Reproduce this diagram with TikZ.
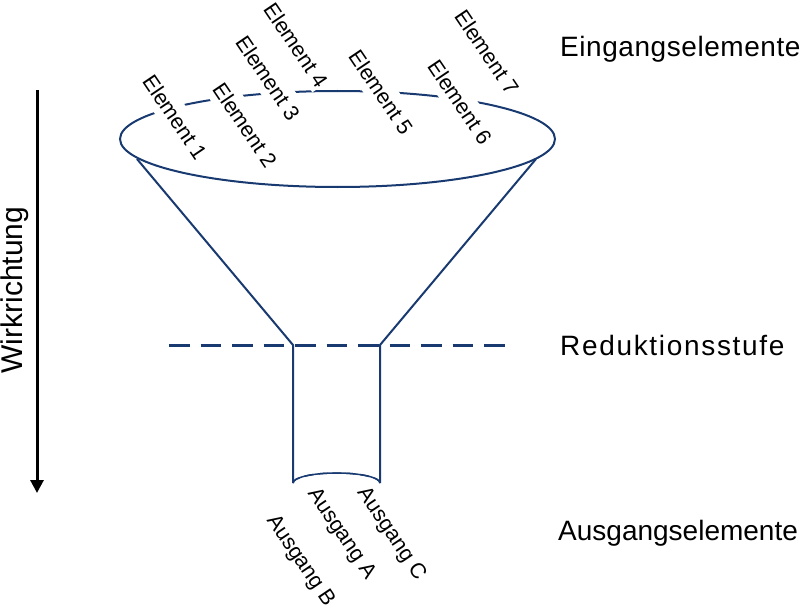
\documentclass[tikz,border=0pt]{standalone}
\usepackage{fontspec}
\setmainfont{Liberation Sans}
\usetikzlibrary{arrows.meta}
\definecolor{funnel}{RGB}{24,58,112}
\begin{document}
\begin{tikzpicture}[x=1pt,y=-1pt,
  fl/.style={draw=funnel,line width=2pt,line join=miter},
  elem/.style={fill=white,inner xsep=2pt,inner ysep=7pt,rotate=-56,font=\fontsize{21.5}{21.5}\selectfont},
  side/.style={anchor=base west,inner sep=0pt,font=\fontsize{28}{28}\selectfont}]
\useasboundingbox (0,0) rectangle (800,615);
% funnel
\coordinate (tl) at (137,159);
\coordinate (tr) at (536,159);
\coordinate (nl) at (293,345);
\coordinate (nr) at (380,345);
\coordinate (bl) at (293,483);
\coordinate (br) at (380,483);
\draw[fl] (337.5,139) ellipse [x radius=217.5, y radius=48];
\draw[fl] (tl) -- (nl) -- (bl);
\draw[fl] (tr) -- (nr) -- (br);
\draw[fl,line width=1.5pt,dash pattern=on 9pt off 5pt] (bl) arc[start angle=180,end angle=360,x radius=43.5,y radius=10];
\draw[fl,line width=1.5pt] (bl) arc[start angle=180,end angle=0,x radius=43.5,y radius=-10];
% reduction line
\coordinate (rl) at (169,345);
\coordinate (rr) at (506,345);
\draw[draw=funnel,line width=3pt,dash pattern=on 20.5pt off 11pt] (rl) -- (rr);
% direction arrow
\coordinate (at) at (37,90);
\coordinate (ab) at (37,493);
\draw[line width=3pt,-{Triangle[length=13pt,width=13pt]}] (at) -- (ab);
\node[rotate=90,anchor=base,inner sep=0pt,font=\fontsize{30}{30}\selectfont] (wr) at (23,290) {Wirkrichtung};
% input labels
\node[elem] (e1) at (175,117) {Element 1};
\node[elem] (e2) at (245,125) {Element 2};
\node[elem] (e3) at (268,78) {Element 3};
\node[elem,inner xsep=0pt,inner ysep=5pt] (e4) at (296,45) {Element 4};
\node[elem] (e5) at (381,92) {Element 5};
\node[elem] (e6) at (460,102) {Element 6};
\node[elem] (e7) at (487,52) {Element 7};
% output labels
\node[elem] (ob) at (300,561) {Ausgang B};
\node[elem] (oa) at (341,534) {Ausgang A};
\node[elem] (oc) at (391,534) {Ausgang C};
% side labels
\node[side] (s1) at (560,57) {\addfontfeature{LetterSpace=2}Eingangselemente};
\node[side] (s2) at (560,355) {\addfontfeature{LetterSpace=6}Reduktionsstufe};
\node[side] (s3) at (558,540) {Ausgangselemente};
\end{tikzpicture}
\end{document}
